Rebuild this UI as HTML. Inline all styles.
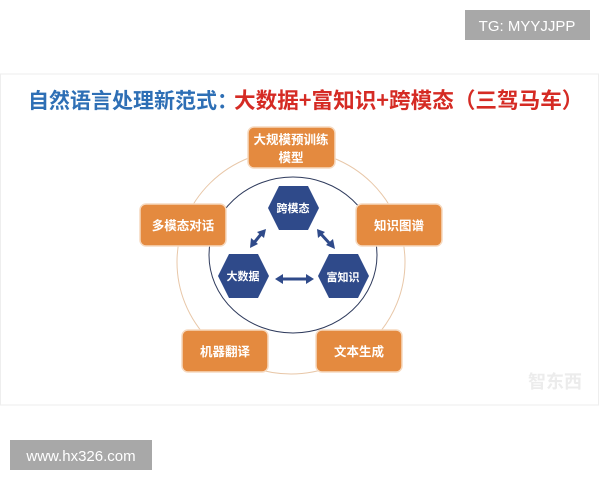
<!DOCTYPE html>
<html><head><meta charset="utf-8"><style>
html,body{margin:0;padding:0;background:#fff;width:600px;height:480px;overflow:hidden;font-family:"Liberation Sans","Noto Sans CJK SC",sans-serif}
</style></head><body>
<svg width="600" height="480" xmlns="http://www.w3.org/2000/svg" style="position:absolute;left:0;top:0">
<rect x="0.5" y="74" width="598" height="331" fill="#fff" stroke="#eeeeee"/>
<text x="28" y="108" font-size="21" font-weight="bold" font-family="Noto Sans CJK SC,sans-serif" fill="#2e6fb5">自然语言处理新范式：</text>
<text x="234" y="108" font-size="21.6" font-weight="bold" font-family="Noto Sans CJK SC,sans-serif" fill="#d52b24">大数据+富知识+跨模态（三驾马车）</text>
<ellipse cx="291" cy="262" rx="114" ry="112" fill="none" stroke="#e8c7a8" stroke-width="1"/>
<ellipse cx="293" cy="255" rx="84" ry="78" fill="none" stroke="#2e3a5c" stroke-width="1"/>
<g fill="#e48a3f" stroke="#f6d9bf" stroke-width="1.5">
<rect x="248" y="127" width="87" height="41" rx="6"/>
<rect x="140" y="204" width="86" height="42" rx="6"/>
<rect x="356" y="204" width="86" height="42" rx="6"/>
<rect x="182" y="330" width="86" height="42" rx="6"/>
<rect x="316" y="330" width="86" height="42" rx="6"/>
</g>
<g fill="#fff" font-size="12.5" font-weight="bold" font-family="Noto Sans CJK SC,sans-serif" text-anchor="middle">
<text x="291" y="144">大规模预训练</text>
<text x="291" y="162">模型</text>
<text x="183" y="230">多模态对话</text>
<text x="399" y="230">知识图谱</text>
<text x="225" y="356">机器翻译</text>
<text x="359" y="356">文本生成</text>
</g>
<g fill="#2f4a8a">
<polygon points="279,186 308,186 319,208 308,230 279,230 268,208"/>
<polygon points="229,254 258,254 269,276 258,298 229,298 218,276"/>
<polygon points="329,254 358,254 369,276 358,298 329,298 318,276"/>
</g>
<g fill="#fff" font-size="11" font-weight="bold" font-family="Noto Sans CJK SC,sans-serif" text-anchor="middle">
<text x="293" y="212">跨模态</text>
<text x="243" y="280">大数据</text>
<text x="343" y="281">富知识</text>
</g>
<g stroke="#2f4a8a" stroke-width="3" fill="#2f4a8a">
<line x1="280" y1="279" x2="309" y2="279"/>
<line x1="253" y1="244" x2="262" y2="233"/>
<line x1="320" y1="233" x2="331" y2="245"/>
</g>
<g fill="#2f4a8a">
<polygon points="275,279 283,274 283,284"/>
<polygon points="314,279 306,274 306,284"/>
<polygon points="250,248 251,238 258,244"/>
<polygon points="266,229 257,232 264,238"/>
<polygon points="317,229 325,232 318,238"/>
<polygon points="335,249 326,245 333,239"/>
</g>
<text x="555" y="388" font-size="18" font-weight="bold" fill="#ececec" text-anchor="middle" font-family="Noto Sans CJK SC,sans-serif">智东西</text>
<rect x="465" y="10" width="125" height="30" fill="#a8a8a8"/>
<text x="527" y="31" font-size="15" fill="#fff" text-anchor="middle">TG: MYYJJPP</text>
<rect x="10" y="440" width="142" height="30" fill="#a8a8a8"/>
<text x="81" y="461" font-size="15" fill="#fff" text-anchor="middle">www.hx326.com</text>
</svg>
</body></html>
